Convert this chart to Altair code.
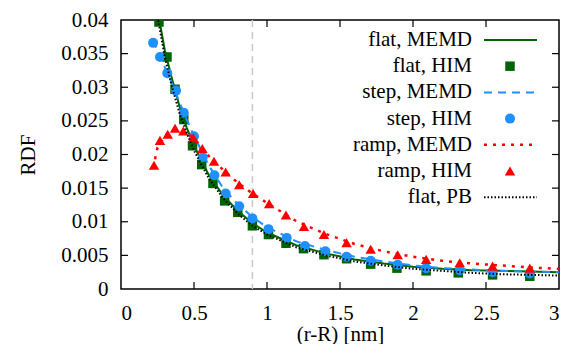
import altair as alt
import pandas as pd

# ---------------- data ----------------
flat_memd_x = [0.25, 0.3, 0.35, 0.4, 0.45, 0.5, 0.6, 0.7, 0.8, 0.9, 1.0, 1.2, 1.4, 1.6, 1.8, 2.0, 2.2, 2.4, 2.6, 2.8, 3.0]
flat_memd_y = [0.0415, 0.0355, 0.0312, 0.0272, 0.0240, 0.0213, 0.0170, 0.0139, 0.0116, 0.0098, 0.0084, 0.0065, 0.0053, 0.0044, 0.0038, 0.0033, 0.0030, 0.0028, 0.0027, 0.0026, 0.0025]

step_memd_x = [0.22, 0.25, 0.3, 0.35, 0.4, 0.45, 0.5, 0.6, 0.7, 0.8, 0.9, 1.0, 1.2, 1.4, 1.6, 1.8, 2.0, 2.2, 2.4, 2.6, 2.8, 3.0]
step_memd_y = [0.0370, 0.0355, 0.0330, 0.0305, 0.0278, 0.0252, 0.0228, 0.0184, 0.0150, 0.0126, 0.0107, 0.0092, 0.0071, 0.0058, 0.0048, 0.0041, 0.0035, 0.0031, 0.0029, 0.0027, 0.0026, 0.0025]

ramp_memd_x = [0.22, 0.25, 0.3, 0.35, 0.4, 0.45, 0.5, 0.6, 0.7, 0.8, 0.9, 1.0, 1.2, 1.4, 1.6, 1.8, 2.0, 2.2, 2.4, 2.6, 2.8, 3.0]
ramp_memd_y = [0.0180, 0.0210, 0.0228, 0.0237, 0.0237, 0.0232, 0.0224, 0.0198, 0.0177, 0.0158, 0.0142, 0.0128, 0.0101, 0.0082, 0.0067, 0.0056, 0.0048, 0.0042, 0.0038, 0.0035, 0.0032, 0.0030]

flat_pb_x = [0.25, 0.3, 0.35, 0.4, 0.45, 0.5, 0.6, 0.7, 0.8, 0.9, 1.0, 1.2, 1.4, 1.6, 1.8, 2.0, 2.2, 2.4, 2.6, 2.8, 3.0]
flat_pb_y = [0.0405, 0.0345, 0.0300, 0.0262, 0.0232, 0.0206, 0.0165, 0.0135, 0.0112, 0.0094, 0.0081, 0.0062, 0.0050, 0.0041, 0.0035, 0.0030, 0.0027, 0.0024, 0.0022, 0.0021, 0.0020]

flat_him_x = [0.26, 0.315, 0.37, 0.43, 0.49, 0.553, 0.63, 0.71, 0.80, 0.90, 1.01, 1.13, 1.25, 1.39, 1.545, 1.71, 1.89, 2.09, 2.31, 2.545, 2.80]
flat_him_y = [0.0397, 0.0345, 0.0297, 0.0252, 0.0213, 0.0185, 0.0157, 0.0131, 0.0114, 0.0094, 0.0081, 0.0068, 0.0060, 0.0051, 0.0045, 0.0037, 0.0031, 0.0027, 0.0024, 0.0021, 0.0019]

step_him_x = [0.22, 0.267, 0.317, 0.377, 0.43, 0.5, 0.56, 0.64, 0.717, 0.81, 0.90, 1.01, 1.135, 1.26, 1.40, 1.545, 1.71, 1.895, 2.09, 2.32, 2.545, 2.80]
step_him_y = [0.0366, 0.0345, 0.0321, 0.0295, 0.0262, 0.0227, 0.0196, 0.0169, 0.0142, 0.0123, 0.0105, 0.0089, 0.0076, 0.0064, 0.0056, 0.0048, 0.0042, 0.0036, 0.0031, 0.0028, 0.0025, 0.0023]

ramp_him_x = [0.226, 0.267, 0.32, 0.37, 0.427, 0.495, 0.557, 0.637, 0.717, 0.81, 0.905, 1.015, 1.13, 1.253, 1.39, 1.545, 1.71, 1.895, 2.09, 2.32, 2.545, 2.80]
ramp_him_y = [0.0184, 0.0221, 0.0230, 0.0239, 0.0235, 0.0225, 0.0209, 0.0190, 0.0174, 0.0155, 0.0142, 0.0127, 0.0110, 0.0093, 0.0081, 0.0069, 0.0059, 0.0051, 0.0044, 0.0039, 0.0034, 0.0031]

x_ticks = [0, 0.5, 1, 1.5, 2, 2.5, 3]
y_ticks = [0, 0.005, 0.01, 0.015, 0.02, 0.025, 0.03, 0.035, 0.04]
ref_x = [0.9]

legend_labels = ["flat, MEMD", "flat, HIM", "step, MEMD", "step, HIM", "ramp, MEMD", "ramp, HIM", "flat, PB"]

# ---------------- styling ----------------
W, H = 438, 269
FONT = "Liberation Serif"
GREEN, BLUE, RED, BLACK = "#006400", "#1e90ff", "#ff0000", "#000000"

xs = alt.Scale(domain=[0, 3], nice=False, zero=False)
ys = alt.Scale(domain=[0, 0.04], nice=False)

xaxis = alt.Axis(values=x_ticks, format="~g", ticks=False, domain=False, grid=False,
                 labelFont=FONT, labelFontSize=21, labelColor="black", labelPadding=13,
                 title="(r-R) [nm]", titleFont=FONT, titleFontSize=21, titleFontWeight="normal",
                 titleColor="black", titlePadding=0)
yaxis = alt.Axis(values=y_ticks, format="~g", ticks=False, domain=False, grid=False,
                 labelFont=FONT, labelFontSize=21, labelColor="black", labelPadding=13,
                 title="RDF", titleFont=FONT, titleFontSize=21, titleFontWeight="normal",
                 titleColor="black", titlePadding=22)


def X(field):
    return alt.X(field, scale=xs, axis=xaxis)


def Y(field):
    return alt.Y(field, scale=ys, axis=yaxis)


def line_layer(xv, yv, color, dash, width):
    df = pd.DataFrame({"x": xv, "y": yv})
    kw = dict(color=color, strokeWidth=width, clip=True)
    if dash:
        kw["strokeDash"] = dash
    return alt.Chart(df).mark_line(**kw).encode(x=X("x:Q"), y=Y("y:Q"))


def point_layer(xv, yv, color, shape, size):
    df = pd.DataFrame({"x": xv, "y": yv})
    return alt.Chart(df).mark_point(shape=shape, filled=True, opacity=1, color=color,
                                    size=size, clip=True).encode(x=X("x:Q"), y=Y("y:Q"))


layers = []
layers.append(line_layer(flat_memd_x, flat_memd_y, GREEN, None, 2))
layers.append(point_layer(flat_him_x, flat_him_y, GREEN, "square", 90))
layers.append(line_layer(step_memd_x, step_memd_y, BLUE, [8, 6], 2))
layers.append(point_layer(step_him_x, step_him_y, BLUE, "circle", 100))
layers.append(line_layer(ramp_memd_x, ramp_memd_y, RED, [3, 6], 2.5))
layers.append(point_layer(ramp_him_x, ramp_him_y, RED, "triangle-up", 110))
layers.append(line_layer(flat_pb_x, flat_pb_y, BLACK, [1.5, 2], 2))

ref_layer = alt.Chart(pd.DataFrame({"x": ref_x})).mark_rule(
    color="#c8c8c8", strokeDash=[7, 5], strokeWidth=1.5).encode(x=X("x:Q"))

# inward tick marks on all four sides
xt = pd.DataFrame({"v": x_ticks[1:-1]})
yt = pd.DataFrame({"v": y_ticks[1:-1]})
TL = 7
tick_layers = [
    alt.Chart(xt).mark_rule(color="black", strokeWidth=1.2).encode(
        x=X("v:Q"), y=alt.value(H), y2=alt.value(H - TL)),
    alt.Chart(xt).mark_rule(color="black", strokeWidth=1.2).encode(
        x=X("v:Q"), y=alt.value(0), y2=alt.value(TL)),
    alt.Chart(yt).mark_rule(color="black", strokeWidth=1.2).encode(
        y=Y("v:Q"), x=alt.value(0), x2=alt.value(TL)),
    alt.Chart(yt).mark_rule(color="black", strokeWidth=1.2).encode(
        y=Y("v:Q"), x=alt.value(W), x2=alt.value(W - TL)),
]

# legend (key placed inside the plot, top right)
legend_styles = [
    ("line", GREEN, None, 2),
    ("square", GREEN, None, 90),
    ("line", BLUE, [8, 6], 2),
    ("circle", BLUE, None, 100),
    ("line", RED, [3, 6], 2.5),
    ("triangle-up", RED, None, 110),
    ("line", BLACK, [1.5, 2], 2),
]
legend_layers = []
for i, (lab, st) in enumerate(zip(legend_labels, legend_styles)):
    ypos = 20 + 26.2 * i
    d = pd.DataFrame({"label": [lab]})
    legend_layers.append(alt.Chart(d).mark_text(align="right", baseline="middle", font=FONT, fontSize=21,
                                                color="black").encode(
        x=alt.value(351), y=alt.value(ypos), text="label:N"))
    kind, col, dash, sz = st
    if kind == "line":
        kw = dict(color=col, strokeWidth=sz)
        if dash:
            kw["strokeDash"] = dash
        legend_layers.append(alt.Chart(d).mark_rule(**kw).encode(
            x=alt.value(363), x2=alt.value(416), y=alt.value(ypos)))
    else:
        legend_layers.append(alt.Chart(d).mark_point(shape=kind, filled=True, opacity=1, color=col, size=sz).encode(
            x=alt.value(389), y=alt.value(ypos)))

chart = alt.layer(ref_layer, *layers, *tick_layers, *legend_layers).properties(
    width=W, height=H,
    autosize=alt.AutoSizeParams(type="none"),
    padding={"left": 113, "top": 12, "right": 10, "bottom": 55},
    background="white",
).configure_view(stroke="black", strokeWidth=1.5)

chart.save("out.html", embed_options={"renderer": "svg", "actions": False})
